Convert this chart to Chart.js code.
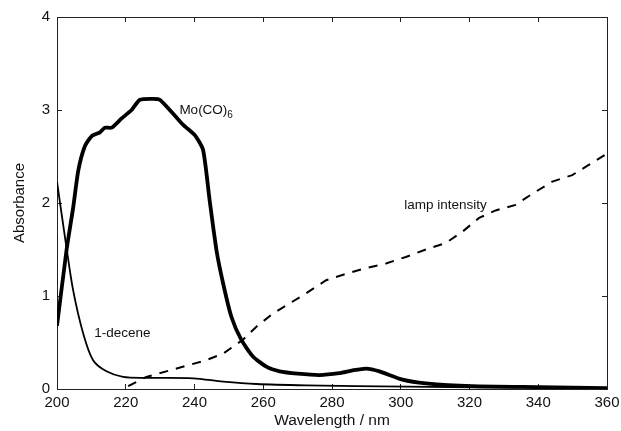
<!DOCTYPE html>
<html>
<head>
<meta charset="utf-8">
<script src="https://cdn.jsdelivr.net/npm/chart.js"></script>
<style>
  body { margin: 0; background: #fff; }
  canvas { display: block; }
</style>
</head>
<body>
<canvas id="myChart" width="621" height="431"></canvas>
<script>
// data
const moWl  = [200, 202.8, 204.7, 206.2, 208.1, 210.1, 212.5, 213.9, 215.9, 218.8, 221.7, 224.1, 228, 229.9, 233.8, 236.7, 240.1, 242.5, 244.4, 246.4, 248.3, 250.7, 253.6, 257, 260.9, 264.8, 270, 276.3, 282.1, 286, 289.9, 293.8, 300.5, 307.3, 320.8, 340.2, 360];
const moAbs = [0.68, 1.5, 1.95, 2.35, 2.61, 2.72, 2.76, 2.81, 2.81, 2.91, 3.0, 3.11, 3.12, 3.11, 2.96, 2.84, 2.73, 2.57, 2.03, 1.49, 1.14, 0.78, 0.53, 0.35, 0.24, 0.19, 0.165, 0.15, 0.17, 0.2, 0.22, 0.19, 0.10, 0.06, 0.03, 0.02, 0.01];

const deceneWl  = [200, 202.8, 204.7, 207.6, 210.5, 214.4, 219.2, 226, 239.6, 248.3, 258, 272.5, 301.5, 340.2, 360];
const deceneAbs = [2.23, 1.51, 1.06, 0.60, 0.31, 0.19, 0.13, 0.12, 0.115, 0.08, 0.054, 0.04, 0.025, 0.014, 0.01];

const lampWl  = [220.7, 226, 233.8, 243.4, 248.3, 254.1, 258, 262.8, 272.5, 278.3, 285.1, 289.9, 295.7, 301.5, 307.3, 313.1, 317.9, 322.8, 327.6, 333.4, 338.3, 344.1, 349.9, 354.7, 360];
const lampAbs = [0.03, 0.13, 0.21, 0.31, 0.38, 0.53, 0.67, 0.81, 1.03, 1.17, 1.25, 1.30, 1.35, 1.42, 1.50, 1.57, 1.69, 1.84, 1.92, 1.98, 2.10, 2.23, 2.30, 2.41, 2.53];

const xTicks = [200, 220, 240, 260, 280, 300, 320, 340, 360];
const yTicks = [0, 1, 2, 3, 4];

const notes = [
  { text: 'Mo(CO)', sub: '6', x: 235.6, y: 3.0 },
  { text: 'lamp intensity', sub: '', x: 301, y: 1.98 },
  { text: '1-decene', sub: '', x: 210.8, y: 0.6 }
];

function pts(xs, ys) {
  return xs.map((x, i) => ({ x: x, y: ys[i] }));
}

const FONT = "'Liberation Sans', Arial, sans-serif";
Chart.defaults.font.family = FONT;
Chart.defaults.color = '#111';

// annotation text, placed through the scales
const notePlugin = {
  id: 'notes',
  afterDatasetsDraw(chart) {
    const c = chart.ctx, xs = chart.scales.x, ys = chart.scales.y;
    c.save();
    c.fillStyle = '#111';
    c.textBaseline = 'middle';
    c.textAlign = 'left';
    notes.forEach(n => {
      const px = xs.getPixelForValue(n.x), py = ys.getPixelForValue(n.y);
      c.font = '13.5px ' + FONT;
      c.fillText(n.text, px, py);
      if (n.sub) {
        const w = c.measureText(n.text).width;
        c.font = '10px ' + FONT;
        c.fillText(n.sub, px + w, py + 5);
      }
    });
    c.restore();
  }
};

function fixW(w) {
  return function (s) { s.width = w; s.paddingTop = 0; s.paddingBottom = 0; };
}
function fixH(h) {
  return function (s) { s.height = h; s.paddingLeft = 0; s.paddingRight = 0; };
}

const axisGrid = { drawOnChartArea: false, tickLength: -5, color: '#222', lineWidth: 1 };
const axisBorder = { color: '#222', width: 1 };

new Chart(document.getElementById('myChart'), {
  type: 'line',
  data: {
    datasets: [
      { label: 'Mo(CO)6', data: pts(moWl, moAbs), borderColor: '#000', borderWidth: 3.8, tension: 0.2, pointRadius: 0 },
      { label: '1-decene', data: pts(deceneWl, deceneAbs), borderColor: '#000', borderWidth: 1.8, tension: 0.3, pointRadius: 0 },
      { label: 'lamp intensity', data: pts(lampWl, lampAbs), borderColor: '#000', borderWidth: 2, borderDash: [9, 8], tension: 0, pointRadius: 0 }
    ]
  },
  options: {
    responsive: false,
    animation: false,
    layout: { padding: { left: 0, right: 14, top: 17, bottom: 0 } },
    plugins: { legend: { display: false }, tooltip: { enabled: false } },
    scales: {
      x: {
        type: 'linear', position: 'bottom', min: 200, max: 360,
        afterBuildTicks: s => { s.ticks = xTicks.map(v => ({ value: v })); },
        ticks: { padding: 10, font: { size: 15 }, color: '#111', maxRotation: 0 },
        grid: axisGrid, border: axisBorder,
        title: { display: true, text: 'Wavelength / nm', font: { size: 15.5 }, color: '#111', padding: { top: 0, bottom: 1 } },
        afterFit: fixH(42)
      },
      x2: {
        type: 'linear', position: 'top', min: 200, max: 360,
        afterBuildTicks: s => { s.ticks = xTicks.map(v => ({ value: v })); },
        ticks: { display: false },
        grid: axisGrid, border: axisBorder,
        afterFit: fixH(0)
      },
      y: {
        type: 'linear', position: 'left', min: 0, max: 4,
        afterBuildTicks: s => { s.ticks = yTicks.map(v => ({ value: v })); },
        ticks: { padding: 12, font: { size: 15 }, color: '#111' },
        grid: axisGrid, border: axisBorder,
        title: { display: true, text: 'Absorbance', font: { size: 15 }, color: '#111', padding: { top: 11, bottom: 0 } },
        afterFit: fixW(57)
      },
      y2: {
        type: 'linear', position: 'right', min: 0, max: 4,
        afterBuildTicks: s => { s.ticks = yTicks.map(v => ({ value: v })); },
        ticks: { display: false },
        grid: axisGrid, border: axisBorder,
        afterFit: fixW(0)
      }
    }
  },
  plugins: [notePlugin]
});
</script>
</body>
</html>
